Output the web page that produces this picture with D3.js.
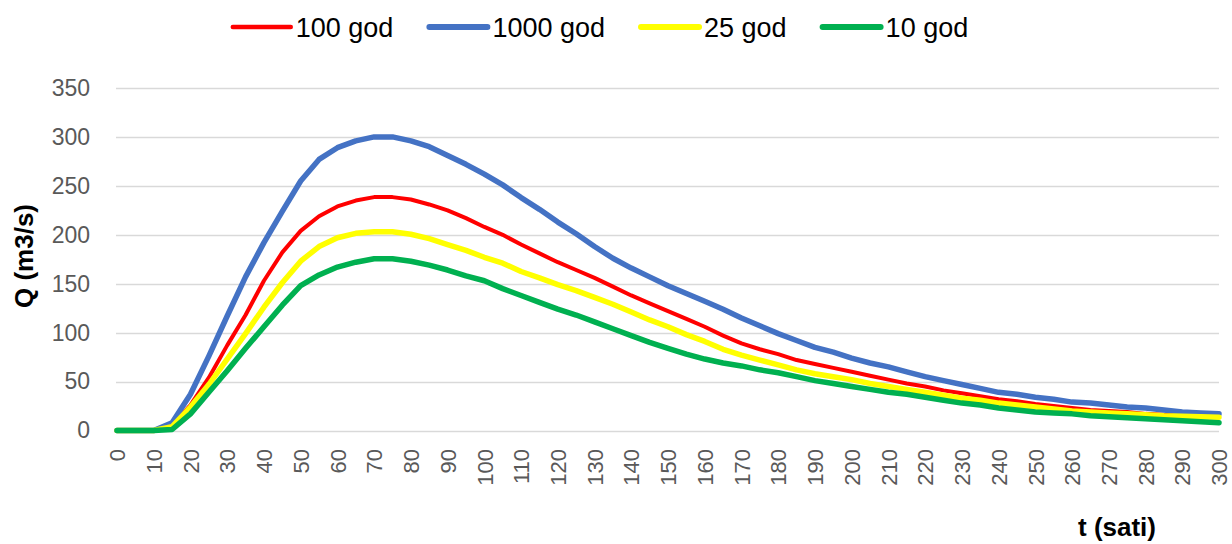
<!DOCTYPE html>
<html>
<head>
<meta charset="utf-8">
<script src="https://cdn.jsdelivr.net/npm/d3@7"></script>
<style>
  html, body { margin: 0; padding: 0; background: #ffffff; }
  svg { display: block; font-family: "Liberation Sans", Arial, sans-serif; }
</style>
</head>
<body>
<svg id="chart" width="1232" height="544"></svg>
<script>
// ---- data (t in hours, every 5 h) ----
const hours = d3.range(0, 301, 5);
const xTickValues = d3.range(0, 301, 10);
const yTickValues = [0, 50, 100, 150, 200, 250, 300, 350];

const q100 = [0,0,0,5,26,54,87,118,153,182,204,219,229,235,238.5,238.5,236,231,225,217,208,200,190,181,172,164,156,147,138,130,122,114,106,97,89,83,78,72,68,64,60,56,52,48,45,41,38,35,32,30,27,25,23,21,20,19,17,16,15.5,15,14.5];
const q1000 = [0,0,0,8,37,76,117,157,192,224,255,277,289,296,300,300,296,290,281,272,262,251,238,226,213,201,188,176,166,157,148,140,132,124,115,107,99,92,85,80,74,69,65,60,55,51,47,43,39,37,34,32,29,28,26,24,23,21,19,18,17];
const q25 = [0,0,0,4,24,47,73,99,126,151,173,188,197,201.5,203,203,200.5,196,190,184,177,171,162.5,156,149,143,136,129,121,113,106,98,91,83,77,72,67,62,58,55,52,48,45,42,39,36,33,31,28,26,24,22,20,19,18,17,16,15,14.5,14,13.5];
const q10 = [0,0,0,1,17,39,61,84,106,128,148,159,167,172,175.5,175.5,173,169,164,158,153,145,138,131,124,118,111,104,97,90,84,78,73,69,66,62,59,55,51,48,45,42,39,37,34,31,28,26,23,21,19,18,17,15,14,13,12,11,10,9,8];

const seriesNames = ["100 god", "1000 god", "25 god", "10 god"];
const seriesValues = [q100, q1000, q25, q10];
const seriesColors = ["#FF0000", "#4472C4", "#FFFF00", "#00B050"];
const seriesWidths = [4, 5.5, 5.5, 5.5];

const xTitle = "t (sati)";
const yTitle = "Q (m3/s)";

// ---- layout ----
const svg = d3.select("#chart");
const x = d3.scaleLinear().domain([0, 300]).range([117, 1219]);
const y = d3.scaleLinear().domain([0, 350]).range([430.5, 88]);

// gridlines
svg.append("g")
  .selectAll("line")
  .data(yTickValues)
  .join("line")
  .attr("x1", 116).attr("x2", 1219)
  .attr("y1", d => Math.round(y(d)) + 0.5)
  .attr("y2", d => Math.round(y(d)) + 0.5)
  .attr("stroke", "#d9d9d9")
  .attr("stroke-width", 1.5);

// y axis labels
const yAxis = d3.axisLeft(y).tickValues(yTickValues).tickSize(0).tickPadding(0);
const gy = svg.append("g").attr("transform", "translate(90,0)").call(yAxis);
gy.select(".domain").remove();
gy.selectAll("text")
  .attr("fill", "#595959")
  .style("font-size", "23px")
  .style("font-family", "'Liberation Sans', Arial, sans-serif");

// x axis labels (rotated)
const xAxis = d3.axisBottom(x).tickValues(xTickValues).tickSize(0).tickPadding(0);
const gx = svg.append("g").attr("transform", "translate(0,449)").call(xAxis);
gx.select(".domain").remove();
gx.selectAll("text")
  .attr("fill", "#595959")
  .style("font-size", "22px")
  .style("font-family", "'Liberation Sans', Arial, sans-serif")
  .attr("text-anchor", "end")
  .attr("dy", "0.35em")
  .attr("y", 0)
  .attr("x", 0)
  .attr("transform", "rotate(-90)");

// lines
const line = d3.line()
  .x((d, i) => x(hours[i]))
  .y(d => y(d))
  .curve(d3.curveLinear);

svg.append("g")
  .selectAll("path")
  .data(seriesValues)
  .join("path")
  .attr("d", d => line(d))
  .attr("fill", "none")
  .attr("stroke", (d, i) => seriesColors[i])
  .attr("stroke-width", (d, i) => seriesWidths[i])
  .attr("stroke-linejoin", "round")
  .attr("stroke-linecap", "round");

// axis titles
svg.append("text")
  .attr("transform", "translate(33,256) rotate(-90)")
  .attr("text-anchor", "middle")
  .style("font-size", "26px")
  .style("font-weight", "bold")
  .attr("fill", "#000")
  .text(yTitle);

svg.append("text")
  .attr("x", 1117).attr("y", 536)
  .attr("text-anchor", "middle")
  .style("font-size", "26px")
  .style("font-weight", "bold")
  .attr("fill", "#000")
  .text(xTitle);

// legend
const legend = svg.append("g");
const lineLen = 58, gapText = 5, gapItem = 36, legY = 27;
let cx = 0;
const items = [];
seriesNames.forEach((name, i) => {
  const g = legend.append("g");
  g.append("line")
    .attr("x1", 0).attr("x2", lineLen)
    .attr("y1", legY).attr("y2", legY)
    .attr("stroke", seriesColors[i])
    .attr("stroke-width", seriesWidths[i] + 0.5)
    .attr("stroke-linecap", "round");
  const t = g.append("text")
    .attr("x", lineLen + gapText)
    .attr("y", legY + 9.5)
    .style("font-size", "27px")
    .attr("fill", "#000")
    .text(name);
  const w = lineLen + gapText + t.node().getComputedTextLength();
  items.push({g, w});
});
const total = d3.sum(items, d => d.w) + gapItem * (items.length - 1);
cx = 600.5 - total / 2;
items.forEach(it => {
  it.g.attr("transform", `translate(${cx},0)`);
  cx += it.w + gapItem;
});
</script>
</body>
</html>
